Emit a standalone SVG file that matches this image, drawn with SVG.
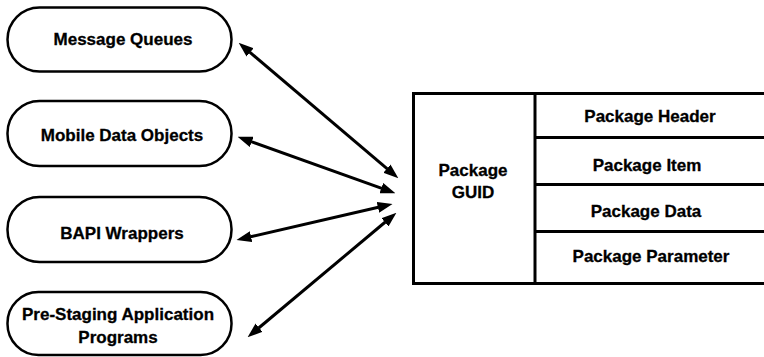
<svg xmlns="http://www.w3.org/2000/svg" width="764" height="357" viewBox="0 0 764 357">
<style>
.pill{fill:#fff;stroke:#000;stroke-width:2.5}
.lbl{font-family:"Liberation Sans",Arial,sans-serif;font-weight:bold;font-size:17px;fill:#000;stroke:#000;stroke-width:0.3;text-anchor:middle}
.box{fill:#fff;stroke:#000;stroke-width:3}
.conn{stroke:#000;stroke-width:3;fill:none;marker-start:url(#ah);marker-end:url(#ah)}
</style>
<defs>
<marker id="ah" viewBox="0 0 15 11" refX="0.5" refY="5.5" markerWidth="15" markerHeight="11" markerUnits="userSpaceOnUse" orient="auto-start-reverse">
<path d="M0,0 L15,5.5 L0,11 z" fill="#000"/>
</marker>
</defs>
<rect width="764" height="357" fill="#fff"/>
<g id="node-message-queues">
<rect class="pill" x="7.5" y="7.5" width="224" height="64" rx="32" ry="32"/>
<text class="lbl" x="123" y="45">Message Queues</text>
</g>
<g id="node-mobile-data-objects">
<rect class="pill" x="7.5" y="101" width="224" height="65" rx="32" ry="32"/>
<text class="lbl" x="122" y="141">Mobile Data Objects</text>
</g>
<g id="node-bapi-wrappers">
<rect class="pill" x="7.5" y="197" width="224" height="65" rx="32" ry="32"/>
<text class="lbl" x="122" y="239">BAPI Wrappers</text>
</g>
<g id="node-pre-staging">
<rect class="pill" x="7.5" y="292" width="224" height="63" rx="31" ry="31"/>
<text class="lbl" x="118" y="320">Pre-Staging Application</text>
<text class="lbl" x="118" y="343">Programs</text>
</g>
<g id="node-package">
<rect class="box" x="413.5" y="93.5" width="355" height="190"/>
<line x1="535" y1="93.5" x2="535" y2="283.5" stroke="#000" stroke-width="3"/>
<line x1="535" y1="137.5" x2="766" y2="137.5" stroke="#000" stroke-width="3"/>
<line x1="535" y1="184.5" x2="766" y2="184.5" stroke="#000" stroke-width="3"/>
<line x1="535" y1="231.5" x2="766" y2="231.5" stroke="#000" stroke-width="3"/>
<text class="lbl" x="473" y="176">Package</text>
<text class="lbl" x="473" y="198">GUID</text>
<text class="lbl" x="650" y="122">Package Header</text>
<text class="lbl" x="647" y="171">Package Item</text>
<text class="lbl" x="646" y="217">Package Data</text>
<text class="lbl" x="651" y="262">Package Parameter</text>
</g>
<g id="connectors">
<path class="conn" d="M249.7,52.1 L387.3,168.9"/>
<path class="conn" d="M251.2,141.7 L381.8,188.3"/>
<path class="conn" d="M250.6,236.8 L378.4,207.2"/>
<path class="conn" d="M258.7,328 L385.3,222"/>
</g>
</svg>
